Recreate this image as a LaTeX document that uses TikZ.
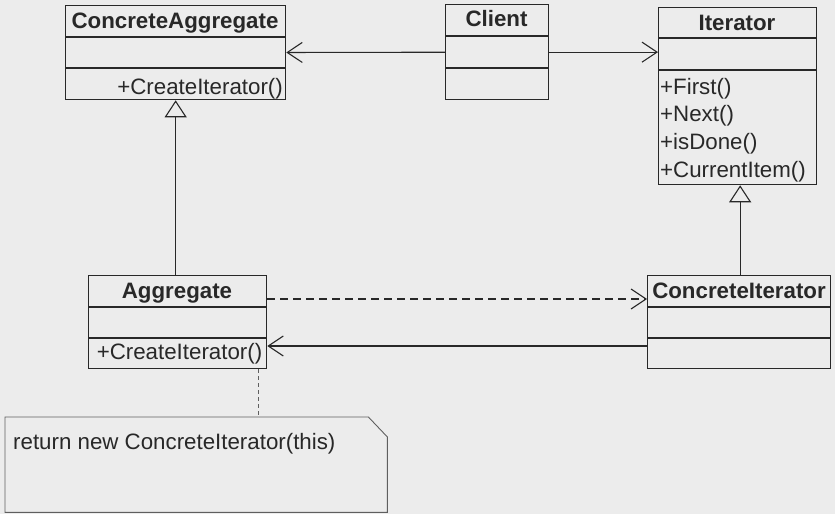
\documentclass[tikz,border=0pt]{standalone}
\usepackage{fontspec}
\setmainfont{Liberation Sans}
\usetikzlibrary{arrows.meta,calc}
\definecolor{bg}{RGB}{236,236,236}
\definecolor{ink}{RGB}{40,40,40}
\definecolor{noteink}{RGB}{95,95,95}
\tikzset{
  classbox/.style={draw=ink, line width=1.3pt, minimum width=#1, inner sep=0pt, anchor=north west},
  sepline/.style={draw=ink, line width=1.3pt},
  title/.style={font=\fontsize{22.3}{26}\selectfont\bfseries, text=ink, inner sep=0pt, anchor=base},
  member/.style={font=\fontsize{22.3}{27.7}\selectfont, text=ink, inner sep=0pt},
  assoc/.style={draw=ink, line width=1.1pt, -{Straight Barb[length=15pt,width=20pt,line width=1.1pt]}},
  depend/.style={assoc, dash pattern=on 8pt off 5pt},
  general/.style={draw=ink, line width=1.1pt, -{Triangle[open,length=17pt,width=22pt,line width=1.1pt,fill=bg]}},
  notelink/.style={draw=noteink, line width=0.9pt, dash pattern=on 4pt off 3pt},
  notebox/.style={draw=noteink, line width=0.9pt}
}
\begin{document}
\begin{tikzpicture}[x=1pt,y=-1pt]
\fill[bg] (0,0) rectangle (835,514);
\useasboundingbox (0,0) rectangle (835,514);

% ConcreteAggregate
\node[classbox=220pt, minimum height=94pt] (ca) at (65,5) {};
\draw[sepline] ($(ca.north west)+(0,32)$) -- ($(ca.north east)+(0,32)$);
\draw[sepline] ($(ca.north west)+(0,63)$) -- ($(ca.north east)+(0,63)$);
\node[title] (catitle) at (175,28) {ConcreteAggregate};
\node[member, anchor=base east] (camethod) at (283,94) {+CreateIterator()};

% Client
\node[classbox=103pt, minimum height=95pt] (client) at (445,4) {};
\draw[sepline] ($(client.north west)+(0,32)$) -- ($(client.north east)+(0,32)$);
\draw[sepline] ($(client.north west)+(0,64)$) -- ($(client.north east)+(0,64)$);
\node[title] (clienttitle) at (496.5,27) {Client};

% Iterator
\node[classbox=158pt, minimum height=177pt] (iter) at (658,7) {};
\draw[sepline] ($(iter.north west)+(0,31)$) -- ($(iter.north east)+(0,31)$);
\draw[sepline] ($(iter.north west)+(0,63)$) -- ($(iter.north east)+(0,63)$);
\node[title] (itertitle) at (737,30) {Iterator};
\node[member, anchor=base west] (m1) at (660,94) {+First()};
\node[member, anchor=base west] (m2) at (660,121.5) {+Next()};
\node[member, anchor=base west] (m3) at (660,149) {+isDone()};
\node[member, anchor=base west] (m4) at (660,177) {+CurrentItem()};

% Aggregate
\node[classbox=178pt, minimum height=93pt] (agg) at (88,275) {};
\draw[sepline] ($(agg.north west)+(0,32)$) -- ($(agg.north east)+(0,32)$);
\draw[sepline] ($(agg.north west)+(0,63)$) -- ($(agg.north east)+(0,63)$);
\node[title] (aggtitle) at (177,298) {Aggregate};
\node[member, anchor=base] (aggmethod) at (179.5,359) {+CreateIterator()};

% ConcreteIterator
\node[classbox=183pt, minimum height=93pt] (ci) at (647,275) {};
\draw[sepline] ($(ci.north west)+(0,32)$) -- ($(ci.north east)+(0,32)$);
\draw[sepline] ($(ci.north west)+(0,63)$) -- ($(ci.north east)+(0,63)$);
\node[title] (cititle) at (739,298) {ConcreteIterator};

% Note
\node[minimum width=382pt, minimum height=95pt, inner sep=0pt, anchor=north west] (note) at (5,417) {};
\draw[notebox] (note.north west) -- ($(note.north east)+(-19,0)$) -- ($(note.north east)+(0,20)$)
  -- (note.south east) -- (note.south west) -- cycle;
\node[member, anchor=base west] (notetext) at (13,449) {return new ConcreteIterator(this)};

% Connectors
\draw[assoc] (client) -- (ca);
\draw[assoc] (client.east) -- (client.east -| iter.west);
\draw[general] (ca.south |- agg.north) -- (ca.south);
\draw[general] ($(ci.north)+(1,0)$) -- ($(ci.north |- iter.south)+(1,0)$);
\coordinate (depstart) at ($(agg.north east)+(0,24)$);
\draw[depend] (depstart) -- (depstart -| ci.west);
\coordinate (backstart) at ($(agg.north east)+(0,71)$);
\draw[assoc] (backstart -| ci.west) -- (backstart);
\coordinate (linkstart) at ($(agg.south east)+(-9,0)$);
\draw[notelink] (linkstart) -- (linkstart |- note.north);
\end{tikzpicture}
\end{document}
